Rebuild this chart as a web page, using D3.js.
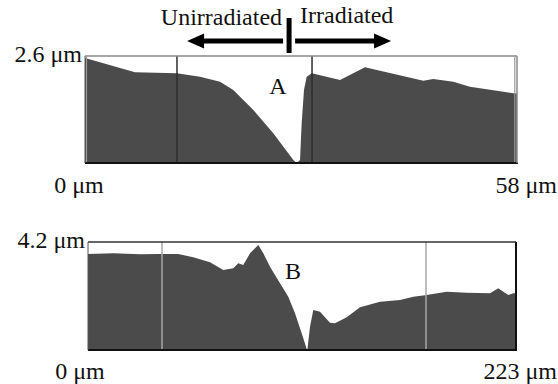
<!DOCTYPE html>
<html>
<head>
<meta charset="utf-8">
<script src="https://cdn.jsdelivr.net/npm/d3@7"></script>
<style>
  html, body { margin: 0; padding: 0; background: #fff; }
  svg { display: block; }
  text { font-family: "Liberation Serif", "Times New Roman", serif; fill: #111; }
</style>
</head>
<body>
<svg id="chart" width="558" height="384"></svg>
<script>
// Surface profile A: position (μm) and height (μm)
const profileAX = [0, 6.71, 12.31, 15.44, 18.13, 19.91, 22.6, 25.28, 27.97, 28.42, 28.87, 29.09, 29.4, 29.76, 30.44, 34.24, 37.59, 45.42, 46.76, 49.45, 51.69, 57.5, 58];
const profileAH = [2.55, 2.204, 2.18, 2.097, 1.975, 1.774, 1.288, 0.722, 0.073, 0, 0.073, 0.965, 1.774, 2.097, 2.18, 2.017, 2.325, 2.0, 2.041, 1.975, 1.854, 1.694, 1.69];

// Surface profile B: position (μm) and height (μm)
const profileBX = [0, 13.18, 27.09, 37.51, 47.05, 54.86, 63.57, 70.5, 75.71, 78.31, 80.91, 84.41, 88.73, 91.34, 94.83, 100.04, 104.36, 107.85, 111.34, 113.95, 114.3, 115.67, 117.39, 120.88, 126.09, 128.69, 134.79, 141.72, 152.14, 162.56, 169.49, 176.47, 186.89, 197.31, 209.45, 213.77, 216.38, 218.98, 221.59, 223];
const profileBH = [3.733, 3.76, 3.722, 3.733, 3.733, 3.605, 3.41, 3.111, 3.177, 3.372, 3.306, 3.761, 4.083, 3.761, 3.239, 2.594, 2.073, 1.427, 0.649, 0.039, 0, 0.906, 1.556, 1.489, 1.062, 1.038, 1.272, 1.661, 1.878, 1.944, 2.073, 2.139, 2.267, 2.228, 2.205, 2.4, 2.267, 2.139, 2.205, 2.205];

// Axis ranges and their labels
const rangeA = { xMax: 58, hMax: 2.6 };
const rangeB = { xMax: 223, hMax: 4.2 };
const labelsA = ["0 μm", "58 μm", "2.6 μm"];
const labelsB = ["0 μm", "223 μm", "4.2 μm"];

// Cursor lines drawn across each profile (μm)
const cursorsA = [12.35, 30.48];
const edgeMarksA = [0.2, 57.7];
const cursorsB = [38.56, 176.1];

// Region annotation above profile A
const regionLabels = ["Unirradiated", "Irradiated"];
const boundaryA = 27.4;

const svg = d3.select("#chart");
const fillColor = "#4b4b4b";
const fontSize = 24;

function drawPanel(cfg) {
  const x = d3.scaleLinear().domain([0, cfg.range.xMax]).range([cfg.left, cfg.right]);
  const y = d3.scaleLinear().domain([0, cfg.range.hMax]).range([cfg.bottom, cfg.top]);
  const g = svg.append("g");

  const pts = cfg.xs.map((v, i) => [v, cfg.hs[i]]);
  const area = d3.area()
    .x(d => x(d[0]))
    .y0(y(0))
    .y1(d => y(d[1]));
  g.append("path").datum(pts).attr("d", area).attr("fill", fillColor);

  // cursor lines
  g.selectAll("line.cursor").data(cfg.cursors).join("line")
    .attr("class", "cursor")
    .attr("x1", d => x(d)).attr("x2", d => x(d))
    .attr("y1", y(cfg.range.hMax)).attr("y2", y(0))
    .attr("stroke", cfg.cursorColor).attr("stroke-width", 1.5);

  if (cfg.edgeMarks) {
    g.selectAll("line.edge").data(cfg.edgeMarks).join("line")
      .attr("class", "edge")
      .attr("x1", d => x(d)).attr("x2", d => x(d))
      .attr("y1", y(cfg.range.hMax) + 1).attr("y2", y(0))
      .attr("stroke", "#9a9a9a").attr("stroke-width", 1.2);
  }

  // frame
  g.append("line").attr("x1", cfg.left).attr("x2", cfg.right)
    .attr("y1", cfg.top).attr("y2", cfg.top)
    .attr("stroke", cfg.topColor).attr("stroke-width", 1.5);
  g.append("line").attr("x1", cfg.left).attr("x2", cfg.right + 1)
    .attr("y1", cfg.bottom).attr("y2", cfg.bottom)
    .attr("stroke", "#111").attr("stroke-width", 2);
  g.append("line").attr("x1", cfg.right).attr("x2", cfg.right)
    .attr("y1", cfg.top).attr("y2", cfg.bottom)
    .attr("stroke", cfg.rightColor).attr("stroke-width", cfg.rightWidth);
  g.append("line").attr("x1", cfg.left).attr("x2", cfg.left)
    .attr("y1", cfg.top).attr("y2", cfg.bottom)
    .attr("stroke", "#555").attr("stroke-width", 1);

  // labels
  g.append("text").attr("x", cfg.left - 3).attr("y", cfg.top + 6)
    .attr("text-anchor", "end").attr("font-size", fontSize).text(cfg.labels[2]);
  g.append("text").attr("x", cfg.zeroX).attr("y", cfg.xLabelY)
    .attr("text-anchor", "middle").attr("font-size", fontSize).text(cfg.labels[0]);
  g.append("text").attr("x", 557).attr("y", cfg.xLabelY)
    .attr("text-anchor", "end").attr("font-size", fontSize).text(cfg.labels[1]);
  g.append("text").attr("x", cfg.tag[0]).attr("y", cfg.tag[1])
    .attr("text-anchor", "middle").attr("font-size", fontSize).text(cfg.tag[2]);

  return { x, y };
}

const A = drawPanel({
  xs: profileAX, hs: profileAH, range: rangeA, labels: labelsA,
  left: 85, right: 517, top: 56, bottom: 163,
  cursors: cursorsA, cursorColor: "#2e2e2e", edgeMarks: edgeMarksA,
  topColor: "#8a8a8a", rightColor: "#8a8a8a", rightWidth: 1.5,
  zeroX: 79, xLabelY: 193, tag: [278, 94, "A"]
});

drawPanel({
  xs: profileBX, hs: profileBH, range: rangeB, labels: labelsB,
  left: 88, right: 516, top: 242, bottom: 350,
  cursors: cursorsB, cursorColor: "#a8a8a8",
  topColor: "#333", rightColor: "#111", rightWidth: 2,
  zeroX: 80, xLabelY: 379, tag: [293, 279, "B"]
});

// region annotation with arrows
const bx = A.x(boundaryA);
const ann = svg.append("g");
ann.append("text").attr("x", bx - 7).attr("y", 25).attr("text-anchor", "end")
  .attr("font-size", fontSize).text(regionLabels[0]);
ann.append("text").attr("x", bx + 11).attr("y", 23).attr("text-anchor", "start")
  .attr("font-size", fontSize).text(regionLabels[1]);
ann.append("rect").attr("x", bx - 2.5).attr("y", 18).attr("width", 5).attr("height", 35).attr("fill", "#000");

const arrowY = 41, arrowLen = 96, headL = 17, headH = 15, shaft = 5;
function arrow(x0, dir) {
  const tip = x0 + dir * arrowLen;
  ann.append("line").attr("x1", x0).attr("x2", tip - dir * (headL - 2))
    .attr("y1", arrowY).attr("y2", arrowY)
    .attr("stroke", "#000").attr("stroke-width", shaft);
  ann.append("path")
    .attr("d", `M${tip},${arrowY} L${tip - dir * headL},${arrowY - headH / 2} L${tip - dir * headL},${arrowY + headH / 2} Z`)
    .attr("fill", "#000");
}
arrow(bx - 6, -1);
arrow(bx + 6, 1);
</script>
</body>
</html>
